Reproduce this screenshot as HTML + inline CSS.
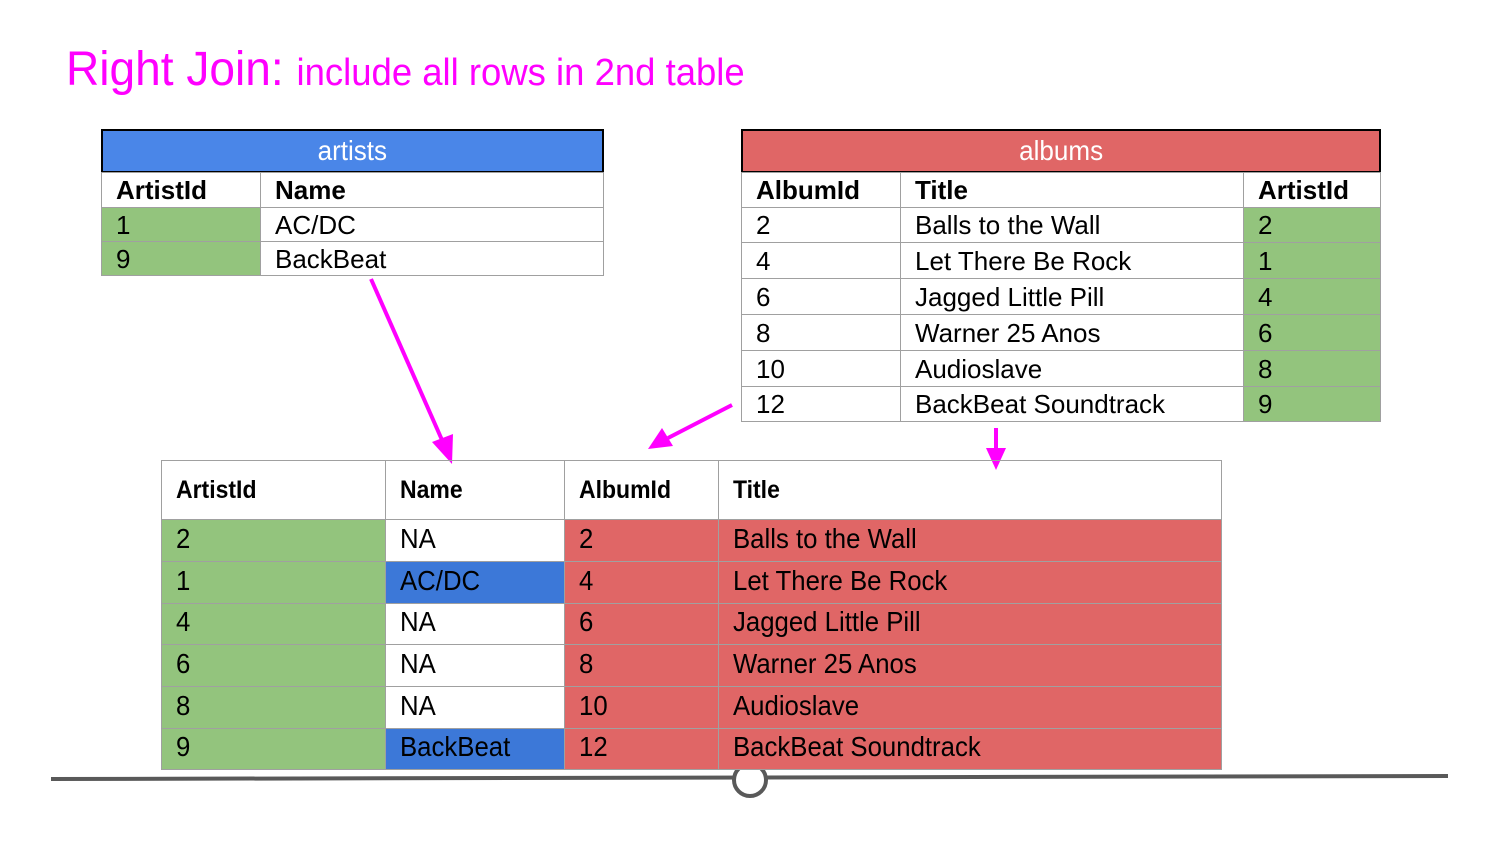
<!DOCTYPE html>
<html><head><meta charset="utf-8"><style>
body{margin:0;width:1500px;height:844px;background:#fff;position:relative;overflow:hidden;font-family:"Liberation Sans",sans-serif}
.c{position:absolute;box-sizing:border-box;border:1px solid #a0a0a0;white-space:nowrap;overflow:hidden}
.n span{display:inline-block;transform:scaleX(0.92);transform-origin:left}
.g{background:#93c47d}.r{background:#e06666}.b{background:#3c78d8}
.hd span{display:inline-block;transform:scaleX(0.93)}
</style></head><body>
<div style="position:absolute;left:66px;top:42px;color:#ff00ff;font-size:48px;white-space:nowrap"><span style="display:inline-block;transform:scaleX(0.96);transform-origin:left">Right Join: <span style="font-size:38px">include all rows in 2nd table</span></span></div>

<div class="c hd" style="left:101px;top:129px;width:503px;height:44px;background:#4a86e8;border:2px solid #000;color:#fff;font-size:28px;text-align:center;line-height:40px"><span>artists</span></div>
<div class="c hd" style="left:741px;top:129px;width:640px;height:44px;background:#e06666;border:2px solid #000;color:#fff;font-size:28px;text-align:center;line-height:40px"><span>albums</span></div>

<svg style="position:absolute;left:0;top:0" width="1500" height="844">
<line x1="51" y1="779" x2="1448" y2="776" stroke="#595959" stroke-width="4"/>
<circle cx="750" cy="780" r="16" fill="#fff" stroke="#595959" stroke-width="4"/>
<g stroke="#ff00ff" stroke-width="4" fill="#ff00ff">
<line x1="371" y1="279" x2="442" y2="440"/><polygon points="452,464 432,442 453,434" stroke="none"/>
<line x1="732" y1="405" x2="668" y2="438"/><polygon points="648,449 662,428 673,446" stroke="none"/>
<line x1="996" y1="428" x2="996" y2="450"/><polygon points="996,470 986,448 1006,448" stroke="none"/>
</g>
</svg>
<script>
function cell(x,y,w,h,t,cls,fs,bold,narrow,pad,lh){
 var d=document.createElement('div');d.className='c '+(cls||'')+(narrow?' n':'');
 d.style.cssText='left:'+x+'px;top:'+y+'px;width:'+(w+1)+'px;height:'+(h+1)+'px;font-size:'+fs+'px;line-height:'+(lh||h)+'px;padding-left:'+pad+'px;'+(bold?'font-weight:bold;':'');
 var s=document.createElement('span');s.textContent=t;d.appendChild(s);document.body.appendChild(d);}
var ay=[172,207,241,275];
var ar=[['ArtistId','Name'],['1','AC/DC'],['9','BackBeat']];
for(var i=0;i<3;i++){cell(101,ay[i],159,ay[i+1]-ay[i],ar[i][0],i?'g':'',26,i==0,0,14);cell(260,ay[i],343,ay[i+1]-ay[i],ar[i][1],'',26,i==0,0,14);}
var by=[172,207,242,278,314,350,386,421];
var al=[['AlbumId','Title','ArtistId'],['2','Balls to the Wall','2'],['4','Let There Be Rock','1'],['6','Jagged Little Pill','4'],['8','Warner 25 Anos','6'],['10','Audioslave','8'],['12','BackBeat Soundtrack','9']];
for(var i=0;i<7;i++){var h=by[i+1]-by[i];cell(741,by[i],159,h,al[i][0],'',26,i==0,0,14);cell(900,by[i],343,h,al[i][1],'',26,i==0,0,14);cell(1243,by[i],137,h,al[i][2],i?'g':'',26,i==0,0,14);}
var cy=[460,519,561,603,644,686,728,769];
var cx=[161,385,564,718,1221];
var bt=[['ArtistId','Name','AlbumId','Title'],['2','NA','2','Balls to the Wall'],['1','AC/DC','4','Let There Be Rock'],['4','NA','6','Jagged Little Pill'],['6','NA','8','Warner 25 Anos'],['8','NA','10','Audioslave'],['9','BackBeat','12','BackBeat Soundtrack']];
for(var i=0;i<7;i++){var h=cy[i+1]-cy[i];for(var j=0;j<4;j++){var cls='';if(i>0){cls=j==0?'g':(j>=2?'r':((bt[i][1]!='NA')?'b':''));}
cell(cx[j],cy[i],cx[j+1]-cx[j],h,bt[i][j],cls,i==0?25:28,i==0,1,14,i?h-5:h);}}
</script>
</body></html>
